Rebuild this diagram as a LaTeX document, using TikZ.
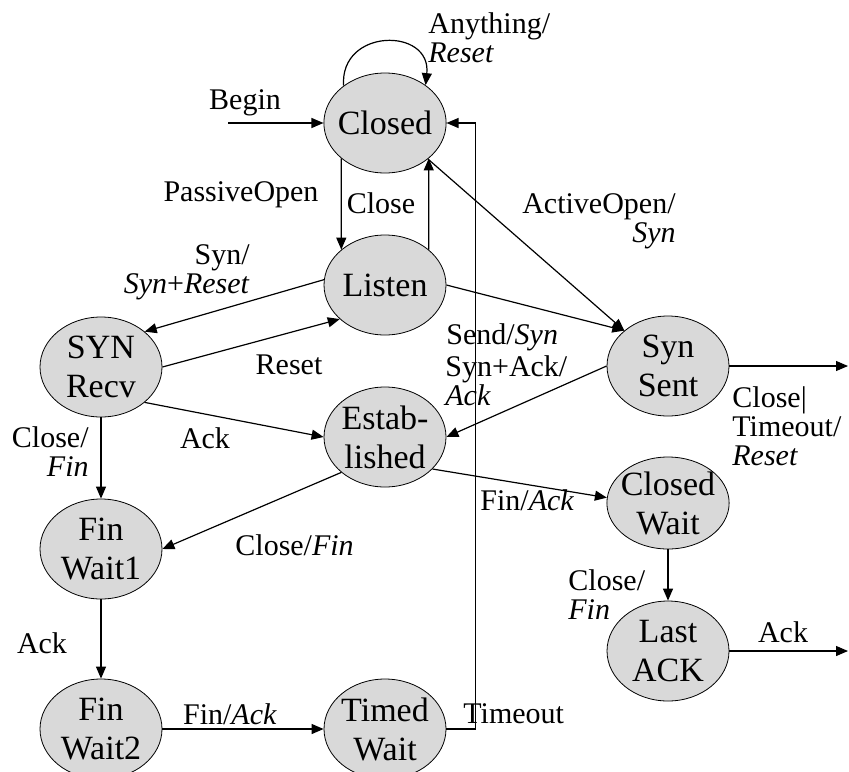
\documentclass[tikz,border=0pt]{standalone}
\usepackage{fontspec}
\setmainfont{Liberation Serif}
\usetikzlibrary{arrows.meta,shapes.geometric,calc}

\begin{document}
\begin{tikzpicture}[x=0.5pt,y=-0.5pt,
		state/.style={draw,ellipse,fill=black!15,minimum width=61pt,minimum height=50pt,inner sep=-2pt,align=center,font=\fontsize{17}{19.5}\selectfont},
		lbl/.style={inner sep=0pt,font=\fontsize{15}{14.5}\selectfont},
		arr/.style={line width=0.6pt,-{Triangle[length=6pt,width=5pt]}}]
		\useasboundingbox (0,0) rectangle (849,771);
		\node[state] (closed) at (385,123) {Closed};
		\node[state] (listen) at (385,285) {Listen};
		\node[state] (synrecv) at (101,367) {SYN\\Recv};
		\node[state] (synsent) at (668,366) {Syn\\Sent};
		\node[state] (estab) at (385,437) {Estab-\\lished};
		\node[state,minimum height=46pt] (closedwait) at (668,503) {Closed\\Wait};
		\node[state] (lastack) at (668,651) {Last\\ACK};
		\node[state] (finwait1) at (101,549) {Fin\\Wait1};
		\node[state] (finwait2) at (101,729) {Fin\\Wait2};
		\node[state] (timedwait) at (385,729) {Timed\\Wait};
		\coordinate (begin) at (228,123);
		\coordinate (exit1) at (848,366);
		\coordinate (exit2) at (848,651);
		\draw[arr] (begin) -- (closed.west);
		\draw[arr] (closed.138) .. controls +(-4,-58) and +(6,-58) .. (closed.43);
		\draw[arr] (closed.-141) -- (listen.141);
		\draw[arr] (listen.39) -- (closed.-39);
		\draw[arr] (closed.-40) -- (synsent.141);
		\draw[arr] (listen.east) -- (synsent.141);
		\draw[arr] (listen.175) -- (synrecv.39);
		\draw[arr] (synrecv.east) -- (listen.-143);
		\draw[arr] (synrecv.-39) -- (estab.west);
		\draw[arr] (synsent.west) -- (estab.east);
		\draw[arr] (synrecv.south) -- (finwait1.north);
		\draw[arr] (estab.-141) -- (finwait1.east);
		\draw[arr] (estab.-34) -- (closedwait.175);
		\draw[arr] (finwait1.south) -- (finwait2.north);
		\draw[arr] (finwait2.east) -- (timedwait.west);
		\draw[arr] (timedwait.east) -- ++(29,0) |- (closed.east);
		\draw[arr] (synsent.east) -- (exit1);
		\draw[arr] (closedwait.south) -- (lastack.north);
		\draw[arr] (lastack.east) -- (exit2);
		\node[lbl] (lbegin) at (245,103) {Begin};
		\node[lbl,align=left,anchor=west] (lany) at (428,38) {Anything/\\\textit{Reset}};
		\node[lbl] (lpassive) at (241,195) {PassiveOpen};
		\node[lbl] (lclose) at (381,203) {Close};
		\node[lbl,align=right,anchor=east] (lactive) at (676,221) {ActiveOpen/\\\textit{Syn}};
		\node[lbl,align=right,anchor=east] (lsyn) at (250,272) {Syn/\\\textit{Syn}+\textit{Reset}};
		\node[lbl] (lreset) at (289,365) {Reset};
		\node[lbl,anchor=west] (lsend) at (446,337) {Send/\textit{Syn}};
		\node[lbl,align=left,anchor=west] (lsynack) at (445,381) {Syn+Ack/\\\textit{Ack}};
		\node[lbl] (lack1) at (205,438) {Ack};
		\node[lbl,align=right,anchor=east] (lclosefin1) at (89,452) {Close/\\\textit{Fin}};
		\node[lbl,anchor=west] (lclosefin2) at (235,545) {Close/\textit{Fin}};
		\node[lbl,anchor=west] (lfinack1) at (480,500) {Fin/\textit{Ack}};
		\node[lbl] (lack2) at (42,643) {Ack};
		\node[lbl] (lfinack2) at (230,714) {Fin/\textit{Ack}};
		\node[lbl,anchor=west] (ltimeout) at (463,714) {Timeout};
		\node[lbl,align=left,anchor=west] (lclosefin3) at (568,595) {Close/\\\textit{Fin}};
		\node[lbl] (lack3) at (783,632) {Ack};
		\node[lbl,align=left,anchor=west] (lclosetime) at (732,426) {Close|\\Timeout/\\\textit{Reset}};
	\end{tikzpicture}
\end{document}
